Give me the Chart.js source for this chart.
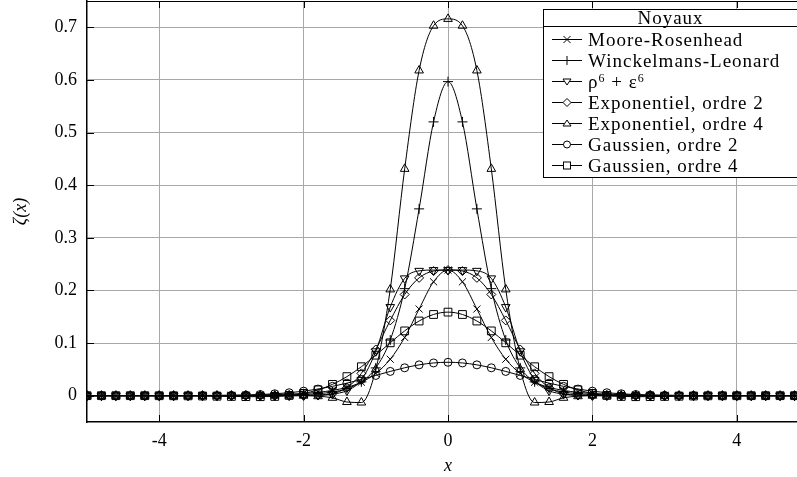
<!DOCTYPE html>
<html lang="fr">
<head>
  <meta charset="UTF-8">
  <title>Noyaux</title>
  <script src="https://cdn.jsdelivr.net/npm/chart.js"></script>
  <style>
    body { margin: 0; background: #fff; overflow: hidden; }
    .wrap { position: relative; width: 810px; height: 477px; }
    #legend { position: absolute; left: 543px; top: 9px; width: 253px; background: #fff; border: 1px solid #000;
              font-family: 'Liberation Serif', serif; font-size: 19px; letter-spacing: 1px; color: #000; }
    #legend .title { text-align: center; height: 16px; line-height: 16px; border-bottom: 1px solid #000; }
    #legend .rows { padding: 2px 0 1px 0; }
    #legend .row { height: 21px; display: flex; align-items: center; padding-left: 4px; white-space: nowrap; }
    #legend svg { width: 38px; height: 21px; flex: none; margin-right: 2px; }
    sup { font-size: 12px; vertical-align: 6px; line-height: 0; }
  </style>
</head>
<body>
<div class="wrap">
  <canvas id="chart" width="810" height="477"></canvas>
  <div id="legend">
    <div class="title">Noyaux</div>
    <div class="rows" id="legendRows"></div>
  </div>
</div>

<script>
  const xs = [-5, -4.8, -4.6, -4.4, -4.2, -4, -3.8, -3.6, -3.4, -3.2, -3, -2.8, -2.6, -2.4, -2.2, -2, -1.8, -1.6, -1.4, -1.2, -1, -0.8, -0.6, -0.4, -0.2,
              0, 0.2, 0.4, 0.6, 0.8, 1, 1.2, 1.4, 1.6, 1.8, 2, 2.2, 2.4, 2.6, 2.8, 3, 3.2, 3.4, 3.6, 3.8, 4, 4.2, 4.4, 4.6, 4.8, 5];

  const mooreRosenhead = [0.0001, 0.0001, 0.0001, 0.0001, 0.0002, 0.0002, 0.0003, 0.0003, 0.0004, 0.0006, 0.0008, 0.0010, 0.0014, 0.0020, 0.0029, 0.0043, 0.0064, 0.0100, 0.0158, 0.0257, 0.0422, 0.0693, 0.1107, 0.1647, 0.2164,
    0.2387, 0.2164, 0.1647, 0.1107, 0.0693, 0.0422, 0.0257, 0.0158, 0.0100, 0.0064, 0.0043, 0.0029, 0.0020, 0.0014, 0.0010, 0.0008, 0.0006, 0.0004, 0.0003, 0.0003, 0.0002, 0.0002, 0.0001, 0.0001, 0.0001, 0.0001];
  const winckelmans = [0, 0, 0, 0, 0, 0, 0, 0, 0.0001, 0.0001, 0.0002, 0.0003, 0.0004, 0.0007, 0.0012, 0.0021, 0.0038, 0.0070, 0.0134, 0.0263, 0.0528, 0.1057, 0.2034, 0.3550, 0.5203,
    0.5968, 0.5203, 0.3550, 0.2034, 0.1057, 0.0528, 0.0263, 0.0134, 0.0070, 0.0038, 0.0021, 0.0012, 0.0007, 0.0004, 0.0003, 0.0002, 0.0001, 0.0001, 0, 0, 0, 0, 0, 0, 0, 0];
  const rho6 = [0, 0, 0, 0, 0, 0, 0, 0, 0, 0, 0, 0, 0, 0.0001, 0.0002, 0.0005, 0.0012, 0.0032, 0.0096, 0.0300, 0.0844, 0.1684, 0.2229, 0.2372, 0.2387,
    0.2387, 0.2387, 0.2372, 0.2229, 0.1684, 0.0844, 0.0300, 0.0096, 0.0032, 0.0012, 0.0005, 0.0002, 0.0001, 0, 0, 0, 0, 0, 0, 0, 0, 0, 0, 0, 0, 0];
  const expo2 = [0, 0, 0, 0, 0, 0, 0, 0, 0, 0, 0, 0, 0, 0, 0, 0.0001, 0.0007, 0.0040, 0.0153, 0.0424, 0.0878, 0.1430, 0.1923, 0.2239, 0.2368,
    0.2387, 0.2368, 0.2239, 0.1923, 0.1430, 0.0878, 0.0424, 0.0153, 0.0040, 0.0007, 0.0001, 0, 0, 0, 0, 0, 0, 0, 0, 0, 0, 0, 0, 0, 0, 0];
  const expo4 = [0, 0, 0, 0, 0, 0, 0, 0, 0, 0, 0, 0, 0, 0, 0, 0, -0.001, -0.004, -0.012, -0.013, 0.050, 0.202, 0.431, 0.618, 0.703,
    0.716, 0.703, 0.618, 0.431, 0.202, 0.050, -0.013, -0.012, -0.004, -0.001, 0, 0, 0, 0, 0, 0, 0, 0, 0, 0, 0, 0, 0, 0, 0, 0];
  const gauss2 = [0, 0, 0, 0, 0, 0, 0, 0.0001, 0.0002, 0.0004, 0.0007, 0.0013, 0.0022, 0.0036, 0.0056, 0.0086, 0.0126, 0.0177, 0.0238, 0.0309, 0.0385, 0.0461, 0.0530, 0.0586, 0.0622,
    0.0635, 0.0622, 0.0586, 0.0530, 0.0461, 0.0385, 0.0309, 0.0238, 0.0177, 0.0126, 0.0086, 0.0056, 0.0036, 0.0022, 0.0013, 0.0007, 0.0004, 0.0002, 0.0001, 0, 0, 0, 0, 0, 0, 0];
  const gauss4 = [0, 0, 0, 0, 0, -0.0001, -0.0002, -0.0003, -0.0006, -0.0010, -0.0014, -0.0018, -0.0019, -0.0014, 0.0005, 0.0043, 0.0111, 0.0215, 0.0362, 0.0550, 0.0770, 0.1005, 0.1231, 0.1419, 0.1543,
    0.1588, 0.1543, 0.1419, 0.1231, 0.1005, 0.0770, 0.0550, 0.0362, 0.0215, 0.0111, 0.0043, 0.0005, -0.0014, -0.0019, -0.0018, -0.0014, -0.0010, -0.0006, -0.0003, -0.0002, -0.0001, 0, 0, 0, 0, 0];

  const xTicks = [-4, -2, 0, 2, 4];
  const yTicks = [0, 0.1, 0.2, 0.3, 0.4, 0.5, 0.6, 0.7];

  const series = [
    { label: 'Moore-Rosenhead', data: mooreRosenhead, style: 'crossRot', radius: 5, rot: 0, mark: 'x' },
    { label: 'Winckelmans-Leonard', data: winckelmans, style: 'cross', radius: 5, rot: 0, mark: 'plus' },
    { label: 'ρ<sup>6</sup> + ε<sup>6</sup>', data: rho6, style: 'triangle', radius: 5, rot: 180, mark: 'tdown' },
    { label: 'Exponentiel, ordre 2', data: expo2, style: 'rectRot', radius: 4.5, rot: 0, mark: 'diamond' },
    { label: 'Exponentiel, ordre 4', data: expo4, style: 'triangle', radius: 5, rot: 0, mark: 'tup' },
    { label: 'Gaussien, ordre 2', data: gauss2, style: 'circle', radius: 4, rot: 0, mark: 'circle' },
    { label: 'Gaussien, ordre 4', data: gauss4, style: 'rect', radius: 5.5, rot: 0, mark: 'square' }
  ];

  // top border + inward tick marks like the original frame
  const frame = {
    id: 'frame',
    beforeDatasetsDraw(chart) {
      const { ctx, chartArea: a, scales: { x, y } } = chart;
      ctx.save();
      ctx.strokeStyle = '#000';
      ctx.lineWidth = 1;
      ctx.beginPath();
      ctx.moveTo(a.left, a.top + 0.5);
      ctx.lineTo(a.right, a.top + 0.5);
      xTicks.forEach(v => {
        const p = Math.round(x.getPixelForValue(v)) + 0.5;
        ctx.moveTo(p, a.bottom); ctx.lineTo(p, a.bottom - 7);
        ctx.moveTo(p, a.top); ctx.lineTo(p, a.top + 7);
      });
      yTicks.forEach(v => {
        const p = Math.round(y.getPixelForValue(v)) + 0.5;
        ctx.moveTo(a.left, p); ctx.lineTo(a.left + 7, p);
      });
      ctx.stroke();
      ctx.restore();
    }
  };

  const tickFont = { family: "'Liberation Serif', serif", size: 18 };

  new Chart(document.getElementById('chart'), {
    type: 'line',
    data: {
      datasets: series.map(s => ({
        label: s.label,
        data: xs.map((x, i) => ({ x: x, y: s.data[i] })),
        borderColor: '#000',
        backgroundColor: 'rgba(0,0,0,0)',
        borderWidth: 1,
        pointStyle: s.style,
        pointRotation: s.rot,
        pointRadius: s.radius,
        pointBorderWidth: 1,
        pointBorderColor: '#000',
        pointBackgroundColor: 'rgba(0,0,0,0)',
        cubicInterpolationMode: 'monotone',
        fill: false
      }))
    },
    options: {
      responsive: false,
      animation: false,
      layout: { autoPadding: false, padding: { top: 1, right: 1, left: 0, bottom: 0 } },
      plugins: { legend: { display: false }, tooltip: { enabled: false } },
      scales: {
        x: {
          type: 'linear', min: -5, max: 5,
          afterBuildTicks: sc => { sc.ticks = xTicks.map(v => ({ value: v })); },
          afterFit: sc => { sc.height = 55; sc.paddingLeft = 0; sc.paddingRight = 0; },
          grid: { color: '#a8a8a8', drawTicks: false },
          border: { color: '#000', width: 1.5 },
          ticks: { color: '#000', font: tickFont, padding: 8, callback: v => String(v) },
          title: { display: true, text: 'x', color: '#000', padding: 0,
                   font: { family: "'Liberation Serif', serif", size: 18, style: 'italic' } }
        },
        y: {
          type: 'linear', min: -0.05, max: 0.75,
          afterBuildTicks: sc => { sc.ticks = yTicks.map(v => ({ value: v })); },
          afterFit: sc => { sc.width = 87; sc.paddingTop = 0; sc.paddingBottom = 0; },
          grid: { color: '#a8a8a8', drawTicks: false },
          border: { color: '#000', width: 1.5 },
          ticks: { color: '#000', font: tickFont, padding: 10, callback: v => v === 0 ? '0' : v.toFixed(1) },
          title: { display: true, text: 'ζ(x)', color: '#000', padding: { top: 10 },
                   font: { family: "'Liberation Serif', serif", size: 18, style: 'italic' } }
        }
      }
    },
    plugins: [frame]
  });

  // legend built from the same series list
  function markSvg(kind) {
    const y = 10.5, c = 19;
    let m = '';
    if (kind === 'x') m = `<path d="M${c-3.5} ${y-3.5}L${c+3.5} ${y+3.5}M${c-3.5} ${y+3.5}L${c+3.5} ${y-3.5}" stroke="#000"/>`;
    if (kind === 'plus') m = `<path d="M${c} ${y-4.5}L${c} ${y+4.5}" stroke="#000"/>`;
    if (kind === 'tdown') m = `<polygon points="${c-4},${y-2.5} ${c+4},${y-2.5} ${c},${y+3.5}" fill="#fff" stroke="#000"/>`;
    if (kind === 'diamond') m = `<polygon points="${c},${y-4} ${c+4},${y} ${c},${y+4} ${c-4},${y}" fill="#fff" stroke="#000"/>`;
    if (kind === 'tup') m = `<polygon points="${c-4},${y+2.5} ${c+4},${y+2.5} ${c},${y-3.5}" fill="#fff" stroke="#000"/>`;
    if (kind === 'circle') m = `<circle cx="${c}" cy="${y}" r="3.5" fill="#fff" stroke="#000"/>`;
    if (kind === 'square') m = `<rect x="${c-3.5}" y="${y-3.5}" width="7" height="7" fill="#fff" stroke="#000"/>`;
    return `<svg viewBox="0 0 38 21"><path d="M4 ${y}L34 ${y}" stroke="#000"/>${m}</svg>`;
  }

  const rows = document.getElementById('legendRows');
  series.forEach(s => {
    const row = document.createElement('div');
    row.className = 'row';
    row.innerHTML = markSvg(s.mark) + `<span>${s.label}</span>`;
    rows.appendChild(row);
  });
</script>
</body>
</html>
